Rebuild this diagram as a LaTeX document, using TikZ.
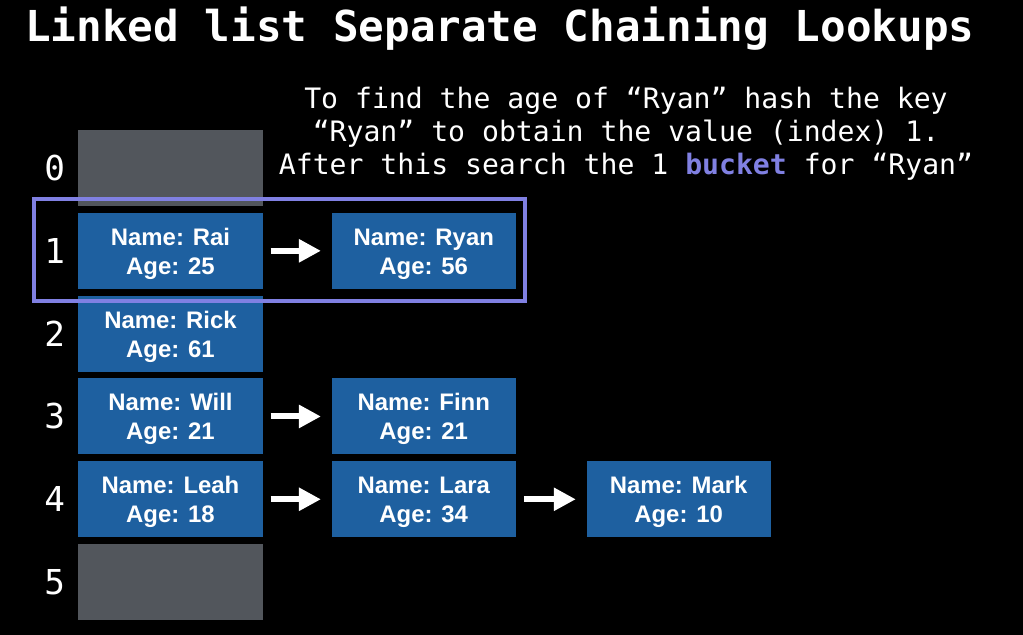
\documentclass[tikz,border=0pt]{standalone}
\usepackage{fontspec}
\setmainfont{Liberation Sans}
\newfontfamily\codefont{DejaVu Sans Mono}
\usetikzlibrary{positioning,arrows.meta}
\definecolor{cellblue}{RGB}{30,96,160}
\definecolor{cellgray}{RGB}{82,86,92}
\definecolor{lavender}{RGB}{128,128,226}
\tikzset{
  cell/.style={fill=cellblue,minimum width=4.6cm,minimum height=1.9cm,inner sep=0pt,outer sep=0pt,
    text=white,align=center,font=\bfseries\fontsize{17}{20.6}\selectfont,
    text height=37pt,text depth=3.6pt},
  emptycell/.style={cell,fill=cellgray},
  idx/.style={text=white,inner sep=0pt,font=\codefont\fontsize{24.4}{24.4}\selectfont},
  link/.style={white,line width=0.15cm,-{Triangle[length=0.55cm,width=0.55cm]},
    shorten <=0.2cm,shorten >=0.27cm}
}
\begin{document}
\begin{tikzpicture}[x=0.025cm,y=-0.025cm]
\useasboundingbox[fill=black] (0,0) rectangle (1023,635);
\node[anchor=base west,inner sep=0pt,text=white,font=\codefont\bfseries\fontsize{30.3}{30.3}\selectfont] (title) at (25,42) {Linked list Separate Chaining Lookups};
\node[text=white,align=center,inner sep=0pt,font=\codefont\fontsize{20}{23.5}\selectfont] (hint) at (626,134)
  {To find the age of “Ryan” hash the key\\“Ryan” to obtain the value (index) 1.\\After this search the 1 \textcolor{lavender}{\bfseries bucket} for “Ryan”};
% the buckets
\node[emptycell] (b0) at (170.5,168) {};
\node[cell,below=0.17cm of b0] (b1) {Name: Rai\\Age: 25};
\node[cell,below=0.17cm of b1] (b2) {Name: Rick\\Age: 61};
\node[cell,below=0.17cm of b2] (b3) {Name: Will\\Age: 21};
\node[cell,below=0.17cm of b3] (b4) {Name: Leah\\Age: 18};
\node[emptycell,below=0.17cm of b4] (b5) {};
\foreach \i in {0,...,5}
  \node[idx,left=0.33cm of b\i] (i\i) {\i};
% the chains
\node[cell,right=1.73cm of b1] (ryan) {Name: Ryan\\Age: 56};
\node[cell,right=1.73cm of b3] (finn) {Name: Finn\\Age: 21};
\node[cell,right=1.73cm of b4] (lara) {Name: Lara\\Age: 34};
\node[cell,right=1.77cm of lara] (mark) {Name: Mark\\Age: 10};
\draw[link] (b1) -- (ryan);
\draw[link] (b3) -- (finn);
\draw[link] (b4) -- (lara);
\draw[link] (lara) -- (mark);
\draw[lavender,line width=0.1cm] ([xshift=-1.1cm,yshift=0.35cm]b1.north west) rectangle ([xshift=0.225cm,yshift=-0.3cm]ryan.south east);
\end{tikzpicture}
\end{document}
